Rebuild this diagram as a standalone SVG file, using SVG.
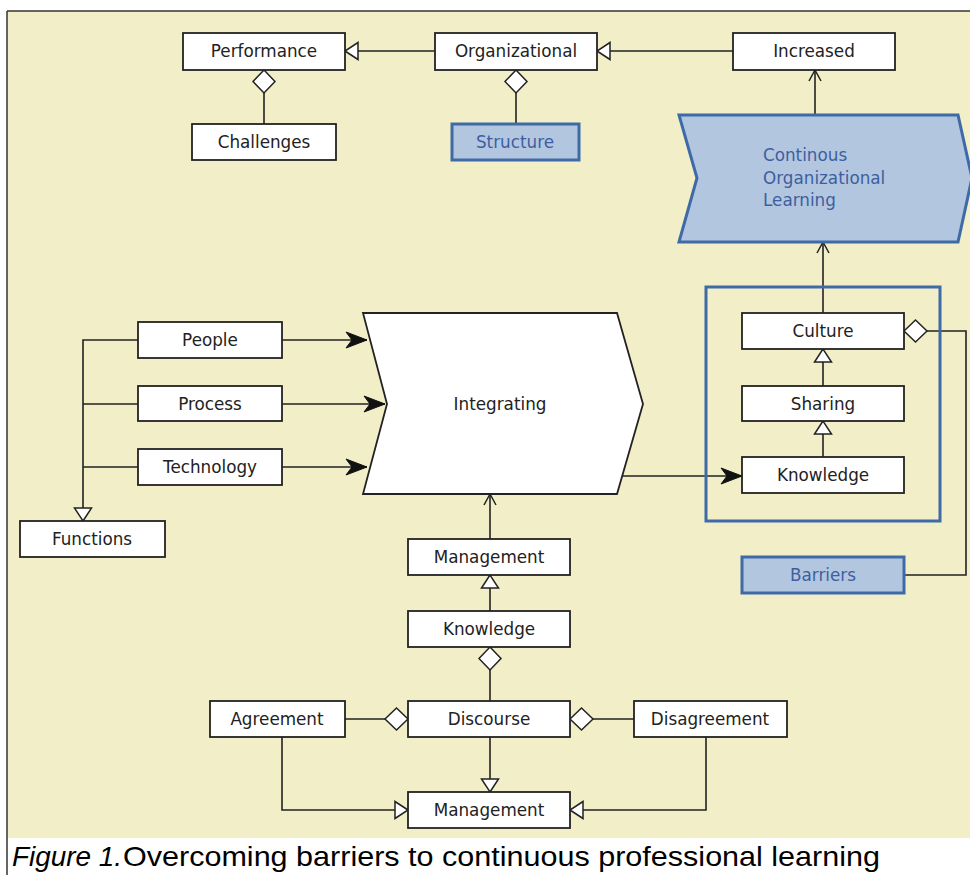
<svg xmlns="http://www.w3.org/2000/svg" width="970" height="875" viewBox="0 0 970 875">
<style>
.box{fill:#ffffff;stroke:#222;stroke-width:1.8}
.bbox{fill:#b3c6e0;stroke:#3f6aa8;stroke-width:3}
.t{font-family:"DejaVu Sans",Verdana,sans-serif;font-size:16.8px;fill:#222;text-anchor:middle}
.bt{font-family:"DejaVu Sans",Verdana,sans-serif;font-size:16.8px;fill:#3d5f9f;text-anchor:middle}
.c{fill:none;stroke:#222;stroke-width:1.6}
.cap{font-family:"Liberation Sans",Arial,sans-serif;font-size:27.5px;fill:#000}
</style>
<defs>
<marker id="tri" viewBox="-15 -10 17 20" refX="0" refY="0" markerWidth="17" markerHeight="20" markerUnits="userSpaceOnUse" orient="auto">
<path d="M0,0 L-13,-8.5 L-13,8.5 Z" fill="#fff" stroke="#222" stroke-width="1.5"/>
</marker>
<marker id="dia" viewBox="-2 -13 27 26" refX="0" refY="0" markerWidth="27" markerHeight="26" markerUnits="userSpaceOnUse" orient="auto">
<path d="M0,0 L11.5,-11 L23,0 L11.5,11 Z" fill="#fff" stroke="#222" stroke-width="1.5"/>
</marker>
<marker id="fill" viewBox="-22 -10 24 20" refX="0" refY="0" markerWidth="24" markerHeight="20" markerUnits="userSpaceOnUse" orient="auto">
<path d="M0,0 L-21,-8 L-15,0 L-21,8 Z" fill="#111" stroke="#111" stroke-width="1"/>
</marker>
<marker id="open" viewBox="-12 -8 14 16" refX="0" refY="0" markerWidth="14" markerHeight="16" markerUnits="userSpaceOnUse" orient="auto">
<path d="M-11,-6 L0,0 L-11,6" fill="none" stroke="#222" stroke-width="1.5"/>
</marker>
</defs>

<rect x="7" y="11" width="970" height="827" fill="#f1eec8"/>
<line x1="7" y1="11" x2="970" y2="11" stroke="#333" stroke-width="1.5"/>
<line x1="7" y1="11" x2="7" y2="875" stroke="#333" stroke-width="1.5"/>

<g id="connectors">
<path class="c" d="M435,51 L345,51" marker-end="url(#tri)"/>
<path class="c" d="M733,51 L597,51" marker-end="url(#tri)"/>
<path class="c" d="M264,70 L264,124" marker-start="url(#dia)"/>
<path class="c" d="M516,70 L516,124" marker-start="url(#dia)"/>
<path class="c" d="M815,115 L815,70" marker-end="url(#open)"/>
<path class="c" d="M823,313 L823,242" marker-end="url(#open)"/>
<path class="c" d="M823,386 L823,349" marker-end="url(#tri)"/>
<path class="c" d="M823,457 L823,421" marker-end="url(#tri)"/>
<path class="c" d="M904,331 L966,331 L966,575 L904,575" marker-start="url(#dia)"/>
<path class="c" d="M622,476 L742,476" marker-end="url(#fill)"/>
<path class="c" d="M282,340 L367,340" marker-end="url(#fill)"/>
<path class="c" d="M282,404 L385,404" marker-end="url(#fill)"/>
<path class="c" d="M282,467 L367,467" marker-end="url(#fill)"/>
<path class="c" d="M138,340 L83,340 L83,521" marker-end="url(#tri)"/>
<path class="c" d="M138,404 L83,404"/>
<path class="c" d="M138,467 L83,467"/>
<path class="c" d="M490,539 L490,494" marker-end="url(#open)"/>
<path class="c" d="M490,611 L490,575" marker-end="url(#tri)"/>
<path class="c" d="M490,647 L490,701" marker-start="url(#dia)"/>
<path class="c" d="M408,719 L345,719" marker-start="url(#dia)"/>
<path class="c" d="M570,719 L634,719" marker-start="url(#dia)"/>
<path class="c" d="M490,737 L490,792" marker-end="url(#tri)"/>
<path class="c" d="M282,737 L282,810 L408,810" marker-end="url(#tri)"/>
<path class="c" d="M706,737 L706,810 L570,810" marker-end="url(#tri)"/>
</g>

<g id="performance"><rect class="box" x="183" y="33" width="162" height="37"/><text class="t" x="264" y="57">Performance</text></g>
<g id="organizational"><rect class="box" x="435" y="33" width="162" height="37"/><text class="t" x="516" y="57">Organizational</text></g>
<g id="increased"><rect class="box" x="733" y="33" width="162" height="37"/><text class="t" x="814" y="57">Increased</text></g>
<g id="challenges"><rect class="box" x="192" y="124" width="144" height="36"/><text class="t" x="264" y="148">Challenges</text></g>
<g id="structure"><rect class="bbox" x="452" y="124" width="127" height="36"/><text class="bt" x="515" y="148">Structure</text></g>
<g id="continuous"><path class="bbox" d="M679,115 L958,115 L972,178 L958,242 L679,242 L697,178 Z"/>
<text class="bt" style="text-anchor:start" x="763" y="161">Continous</text>
<text class="bt" style="text-anchor:start" x="763" y="184">Organizational</text>
<text class="bt" style="text-anchor:start" x="763" y="206">Learning</text></g>

<g id="container"><rect x="706" y="287" width="234" height="234" fill="none" stroke="#3f6aa8" stroke-width="3"/></g>
<g id="culture"><rect class="box" x="742" y="313" width="162" height="36"/><text class="t" x="823" y="337">Culture</text></g>
<g id="sharing"><rect class="box" x="742" y="386" width="162" height="35"/><text class="t" x="823" y="410">Sharing</text></g>
<g id="knowledge1"><rect class="box" x="742" y="457" width="162" height="36"/><text class="t" x="823" y="481">Knowledge</text></g>
<g id="barriers"><rect class="bbox" x="742" y="557" width="162" height="36"/><text class="bt" x="823" y="581">Barriers</text></g>

<g id="integrating"><path class="box" d="M363,313 L617,313 L643,404 L617,494 L363,494 L387,404 Z"/><text class="t" x="500" y="410">Integrating</text></g>
<g id="people"><rect class="box" x="138" y="322" width="144" height="36"/><text class="t" x="210" y="346">People</text></g>
<g id="process"><rect class="box" x="138" y="386" width="144" height="35"/><text class="t" x="210" y="410">Process</text></g>
<g id="technology"><rect class="box" x="138" y="449" width="144" height="36"/><text class="t" x="210" y="473">Technology</text></g>
<g id="functions"><rect class="box" x="20" y="521" width="145" height="36"/><text class="t" x="92" y="545">Functions</text></g>

<g id="management1"><rect class="box" x="408" y="539" width="162" height="36"/><text class="t" x="489" y="563">Management</text></g>
<g id="knowledge2"><rect class="box" x="408" y="611" width="162" height="36"/><text class="t" x="489" y="635">Knowledge</text></g>
<g id="discourse"><rect class="box" x="408" y="701" width="162" height="36"/><text class="t" x="489" y="725">Discourse</text></g>
<g id="agreement"><rect class="box" x="210" y="701" width="135" height="36"/><text class="t" x="277" y="725">Agreement</text></g>
<g id="disagreement"><rect class="box" x="634" y="701" width="153" height="36"/><text class="t" x="710" y="725">Disagreement</text></g>
<g id="management2"><rect class="box" x="408" y="792" width="162" height="36"/><text class="t" x="489" y="816">Management</text></g>

<g id="caption">
<text class="cap" x="12" y="866" font-style="italic" textLength="110" lengthAdjust="spacingAndGlyphs">Figure 1.</text>
<text class="cap" x="123" y="866" textLength="757" lengthAdjust="spacingAndGlyphs">Overcoming barriers to continuous professional learning</text>
</g>
</svg>
